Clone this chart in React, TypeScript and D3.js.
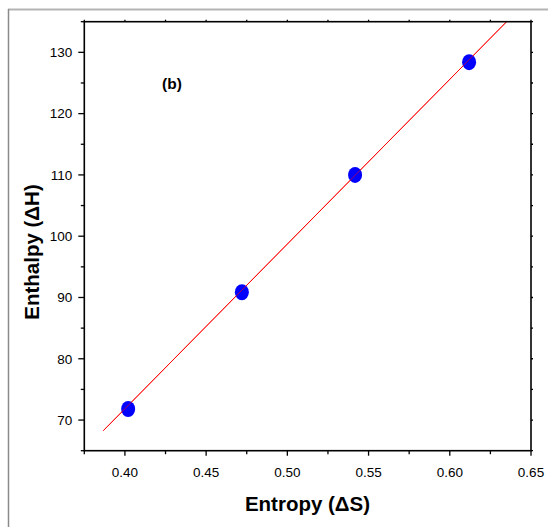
import React from "react";
import * as d3 from "d3";

const entropy = [0.402, 0.472, 0.5417, 0.6119];
const enthalpy = [71.8, 90.85, 110.0, 128.4];
const fitX = [0.3867, 0.635];
const fitY = [68.27, 135.0];
const xTicks = [0.4, 0.45, 0.5, 0.55, 0.6, 0.65];
const xMinor = [0.375, 0.425, 0.475, 0.525, 0.575, 0.625];
const yTicks = [70, 80, 90, 100, 110, 120, 130];
const yMinor = [65, 75, 85, 95, 105, 115, 125, 135];

const W = 548;
const H = 527;
const L = 84.3, R = 531, T = 21.7, B = 450.7;
const font = "'Liberation Sans', Arial, sans-serif";

export default function App() {
  const x = d3.scaleLinear().domain([0.375, 0.65]).range([L, R]);
  const y = d3.scaleLinear().domain([65, 135]).range([B, T]);
  const line = d3
    .line<number>()
    .x((d) => x(d))
    .y((_, i) => y(fitY[i]));
  return (
    <svg
      width={W}
      height={H}
      style={{ position: "absolute", left: 0, top: 0, background: "#fff" }}
    >
      <rect x={0} y={0} width={W} height={H} fill="#fff" />
      <line x1={8} x2={W} y1={9.5} y2={9.5} stroke="#b4b4b4" strokeWidth={2} />
      <line x1={8.5} x2={8.5} y1={9} y2={H} stroke="#8a8a8a" strokeWidth={1.5} />

      {/* fit line */}
      <path d={line(fitX) || ""} stroke="#ff0000" strokeWidth={1} fill="none" />

      {/* points */}
      {entropy.map((e, i) => (
        <ellipse key={i} cx={x(e)} cy={y(enthalpy[i])} rx={7} ry={8} fill="#0000ff" />
      ))}
      {/* redraw line over points */}
      <path d={line(fitX) || ""} stroke="#ff0000" strokeWidth={0.8} fill="none" opacity={0.8} />

      {/* frame */}
      <rect x={L} y={T} width={R - L} height={B - T} fill="none" stroke="#000" strokeWidth={1.6} />

      {/* bottom ticks */}
      {xTicks.map((t) => (
        <g key={"xb" + t}>
          <line x1={x(t)} x2={x(t)} y1={B} y2={B + 5} stroke="#000" strokeWidth={1.3} />
          <line x1={x(t)} x2={x(t)} y1={T} y2={T - 2} stroke="#000" strokeWidth={1.3} />
          <text
            x={x(t)}
            y={477}
            textAnchor="middle"
            fontFamily={font}
            fontSize={13.5}
            fill="#000"
          >
            {d3.format(".2f")(t)}
          </text>
        </g>
      ))}
      {xMinor.map((t) => (
        <g key={"xm" + t}>
          <line x1={x(t)} x2={x(t)} y1={B} y2={B + 3.5} stroke="#000" strokeWidth={1.3} />
          <line x1={x(t)} x2={x(t)} y1={T} y2={T - 2} stroke="#000" strokeWidth={1.3} />
        </g>
      ))}

      {/* left ticks */}
      {yTicks.map((t) => (
        <g key={"yl" + t}>
          <line x1={L} x2={L - 6} y1={y(t)} y2={y(t)} stroke="#000" strokeWidth={1.3} />
          <line x1={R} x2={R + 2} y1={y(t)} y2={y(t)} stroke="#000" strokeWidth={1.3} />
          <text
            x={L - 12}
            y={y(t) + 4.8}
            textAnchor="end"
            fontFamily={font}
            fontSize={13.5}
            fill="#000"
          >
            {t}
          </text>
        </g>
      ))}
      {yMinor.map((t) => (
        <g key={"ym" + t}>
          <line x1={L} x2={L - 3.5} y1={y(t)} y2={y(t)} stroke="#000" strokeWidth={1.3} />
          <line x1={R} x2={R + 2} y1={y(t)} y2={y(t)} stroke="#000" strokeWidth={1.3} />
        </g>
      ))}

      <text x={172} y={89} textAnchor="middle" fontFamily={font} fontWeight="bold" fontSize={15.5}>
        (b)
      </text>

      <text
        x={307.5}
        y={511}
        textAnchor="middle"
        fontFamily={font}
        fontWeight="bold"
        fontSize={20.5}
      >
        Entropy (ΔS)
      </text>
      <text
        transform={`translate(38.5,252) rotate(-90)`}
        textAnchor="middle"
        fontFamily={font}
        fontWeight="bold"
        fontSize={20.5}
      >
        Enthalpy (ΔH)
      </text>
    </svg>
  );
}
